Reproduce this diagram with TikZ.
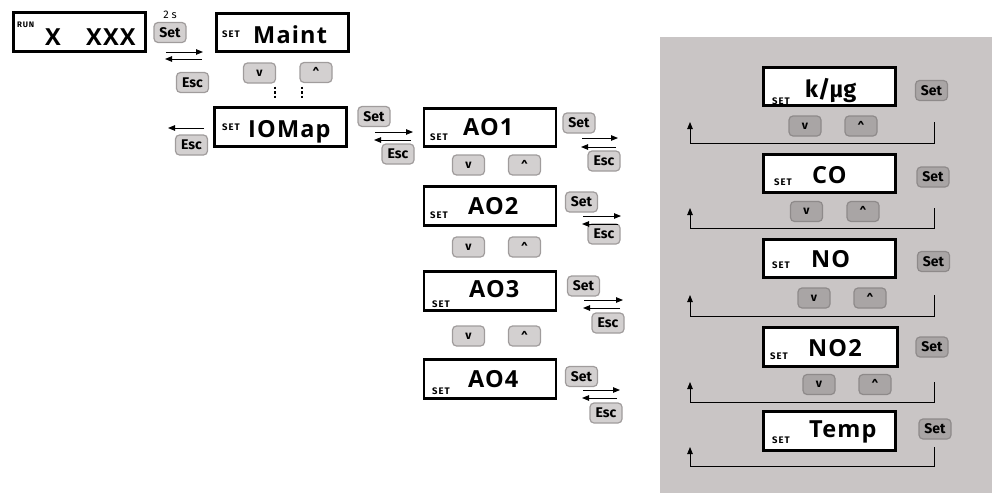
\documentclass[tikz,border=0pt]{standalone}
\usepackage{fontspec}
\setmainfont{Fira Sans}
\newfontfamily\dispfont[LetterSpace=5]{Open Sans}
\newfontfamily\lblfont[LetterSpace=10]{Fira Sans}
\usetikzlibrary{arrows.meta}
\definecolor{panel}{HTML}{C9C5C5}
\definecolor{btnfill}{HTML}{D3D0D0}
\definecolor{btnedge}{HTML}{A09C9C}
\definecolor{btnfillD}{HTML}{A9A5A5}
\definecolor{btnedgeD}{HTML}{8E8A8A}
\tikzset{
  disp/.style={draw=black, line width=2.6pt, fill=white, minimum width=132pt, minimum height=38.5pt, inner sep=0pt},
  big/.style={font=\dispfont\fontsize{23.5}{24}\selectfont\bfseries, inner sep=0pt, anchor=base west},
  setlbl/.style={font=\lblfont\fontsize{9.5}{10}\selectfont\bfseries, inner sep=0pt, anchor=base west},
  btn/.style={draw=btnedge, fill=btnfill, rounded corners=4pt, line width=1.2pt, minimum width=32pt, minimum height=20pt, inner sep=0pt, font=\fontsize{14}{14}\selectfont\bfseries},
  btnd/.style={btn, draw=btnedgeD, fill=btnfillD},
  arr/.style={-{Triangle[length=7pt,width=5.5pt]}, line width=0.9pt},
  looparr/.style={-{Triangle[length=7pt,width=5.5pt]}, line width=0.9pt},
  dotline/.style={line width=2.6pt, dash pattern=on 2.4pt off 2.2pt}
}
\newcommand{\dn}{\fontsize{12}{12}\selectfont v}
\newcommand{\up}{\fontsize{12}{12}\selectfont\raisebox{-0.35ex}{\textasciicircum}}
\begin{document}
\begin{tikzpicture}[x=1pt,y=-1pt]
\useasboundingbox (0,0) rectangle (995,493);
% gray panel
\fill[panel] (660,37) rectangle (992,493);

% ---------- left part ----------
\node[disp] (run) at (79.5,32) {};
\node[setlbl, font=\lblfont\fontsize{8}{8}\selectfont\bfseries] (runlbl) at (17,27) {RUN};
\node[big] (runx) at (45,45) {X};
\node[big] (runxxx) at (86,45) {XXX};

\node[btn] (set0) at (170,32.5) {Set};
\node[font=\fontsize{11}{11}\selectfont, inner sep=0pt] (twos) at (170,15) {2 s};
\node[btn] (esc0) at (192.5,82.5) {Esc};
\coordinate (a0r1) at (166,52); \coordinate (a0r2) at (203,52);
\coordinate (a0l1) at (202,59); \coordinate (a0l2) at (165,59);
\draw[arr] (a0r1) -- (a0r2);
\draw[arr] (a0l1) -- (a0l2);

\node[disp] (maint) at (282.5,32.5) {};
\node[setlbl] (maintset) at (222,37) {SET};
\node[big] (mainttxt) at (253,43.5) {Maint};
\node[btn] (dn0) at (259.5,73) {\dn};
\node[btn] (up0) at (316,72.5) {\up};
\coordinate (d1a) at (275,86.5); \coordinate (d1b) at (275,100);
\coordinate (d2a) at (302,86.5); \coordinate (d2b) at (302,100);
\draw[dotline] (d1a) -- (d1b);
\draw[dotline] (d2a) -- (d2b);

\node[disp] (iomap) at (280.5,127) {};
\node[setlbl] (ioset) at (222,130) {SET};
\node[big] (iotxt) at (248,137) {IOMap};
\coordinate (aio1) at (204,128); \coordinate (aio2) at (168,128);
\draw[arr] (aio1) -- (aio2);
\node[btn] (escio) at (191.5,145) {Esc};

\node[btn] (setio) at (374,116.5) {Set};
\node[btn] (escio2) at (398,154) {Esc};
\coordinate (aior1) at (375,132); \coordinate (aior2) at (413,132);
\coordinate (aiol1) at (411,140); \coordinate (aiol2) at (374,140);
\draw[arr] (aior1) -- (aior2);
\draw[arr] (aiol1) -- (aiol2);

% ---------- AO column ----------
\node[disp] (ao1) at (490,127.5) {};
\node[setlbl] (ao1set) at (430,140) {SET};
\node[big] (ao1txt) at (463,135) {AO1};
\node[btn] (ao1dn) at (468.5,165) {\dn};
\node[btn] (ao1up) at (524.5,165) {\up};
\node[btn] (ao1s) at (579,123) {Set};
\node[btn] (ao1e) at (604,161) {Esc};
\coordinate (ao1r1) at (582,138); \coordinate (ao1r2) at (618,138);
\coordinate (ao1l1) at (616,147); \coordinate (ao1l2) at (581,147);
\draw[arr] (ao1r1) -- (ao1r2);
\draw[arr] (ao1l1) -- (ao1l2);

\node[disp] (ao2) at (490,206) {};
\node[setlbl] (ao2set) at (430,218) {SET};
\node[big] (ao2txt) at (468,214) {AO2};
\node[btn] (ao2dn) at (468.5,247) {\dn};
\node[btn] (ao2up) at (524.5,247) {\up};
\node[btn] (ao2s) at (581.5,202) {Set};
\node[btn] (ao2e) at (604,234) {Esc};
\coordinate (ao2r1) at (583,216); \coordinate (ao2r2) at (621,216);
\coordinate (ao2l1) at (618,224); \coordinate (ao2l2) at (582,224);
\draw[arr] (ao2r1) -- (ao2r2);
\draw[arr] (ao2l1) -- (ao2l2);

\node[disp] (ao3) at (490,291) {};
\node[setlbl] (ao3set) at (432,307) {SET};
\node[big] (ao3txt) at (469,297) {AO3};
\node[btn] (ao3dn) at (468.5,336) {\dn};
\node[btn] (ao3up) at (524.5,336) {\up};
\node[btn] (ao3s) at (583.5,286) {Set};
\node[btn] (ao3e) at (608,323) {Esc};
\coordinate (ao3r1) at (584,300); \coordinate (ao3r2) at (623,300);
\coordinate (ao3l1) at (620,308); \coordinate (ao3l2) at (583,308);
\draw[arr] (ao3r1) -- (ao3r2);
\draw[arr] (ao3l1) -- (ao3l2);

\node[disp] (ao4) at (490,379) {};
\node[setlbl] (ao4set) at (432,394) {SET};
\node[big] (ao4txt) at (468,387) {AO4};
\node[btn] (ao4s) at (581.5,376.5) {Set};
\node[btn] (ao4e) at (606,413) {Esc};
\coordinate (ao4r1) at (583,390); \coordinate (ao4r2) at (620,390);
\coordinate (ao4l1) at (617,398); \coordinate (ao4l2) at (582,398);
\draw[arr] (ao4r1) -- (ao4r2);
\draw[arr] (ao4l1) -- (ao4l2);

% ---------- right panel ----------
\node[disp] (kug) at (829.5,86.5) {};
\node[setlbl] (kugset) at (772,104) {SET};
\node[big, font=\fontsize{23.5}{24}\selectfont\bfseries] (kugtxt) at (805,97) {k/µg};
\node[btnd] (kugs) at (931.5,90.5) {Set};
\node[btnd] (kugdn) at (805,126) {\dn};
\node[btnd] (kugup) at (861,126) {\up};
\coordinate (l1r) at (934,122); \coordinate (l1b) at (934,143);
\coordinate (l1c) at (690,143); \coordinate (l1t) at (690,122);
\draw[looparr] (l1r) -- (l1b) -- (l1c) -- (l1t);

\node[disp] (co) at (829.5,173.5) {};
\node[setlbl] (coset) at (774,185) {SET};
\node[big] (cotxt) at (812,183) {CO};
\node[btnd] (cos) at (933,177) {Set};
\node[btnd] (codn) at (806.5,211.5) {\dn};
\node[btnd] (coup) at (863,211.5) {\up};
\coordinate (l2r) at (934,208); \coordinate (l2b) at (934,228);
\coordinate (l2c) at (690,228); \coordinate (l2t) at (690,208);
\draw[looparr] (l2r) -- (l2b) -- (l2c) -- (l2t);

\node[disp] (no) at (829.5,258.5) {};
\node[setlbl] (noset) at (772,268) {SET};
\node[big] (notxt) at (811,267) {NO};
\node[btnd] (nos) at (933.5,261.5) {Set};
\node[btnd] (nodn) at (814,298) {\dn};
\node[btnd] (noup) at (870,298) {\up};
\coordinate (l3r) at (934,295); \coordinate (l3b) at (934,316);
\coordinate (l3c) at (690,316); \coordinate (l3t) at (690,295);
\draw[looparr] (l3r) -- (l3b) -- (l3c) -- (l3t);

\node[disp, minimum width=134pt] (notwo) at (830.5,347) {};
\node[setlbl] (notwoset) at (770,359) {SET};
\node[big] (notwotxt) at (808,356) {NO2};
\node[btnd] (notwos) at (932,347) {Set};
\node[btnd] (notwodn) at (819,384.5) {\dn};
\node[btnd] (notwoup) at (875,384.5) {\up};
\coordinate (l4r) at (934,382); \coordinate (l4b) at (934,402);
\coordinate (l4c) at (690,402); \coordinate (l4t) at (690,382);
\draw[looparr] (l4r) -- (l4b) -- (l4c) -- (l4t);

\node[disp] (temp) at (829.5,431) {};
\node[setlbl] (tempset) at (772,443) {SET};
\node[big] (temptxt) at (809,437) {Temp};
\node[btnd] (temps) at (935,429) {Set};
\coordinate (l5r) at (934,447); \coordinate (l5b) at (934,466);
\coordinate (l5c) at (690,466); \coordinate (l5t) at (690,447);
\draw[looparr] (l5r) -- (l5b) -- (l5c) -- (l5t);
\end{tikzpicture}
\end{document}
